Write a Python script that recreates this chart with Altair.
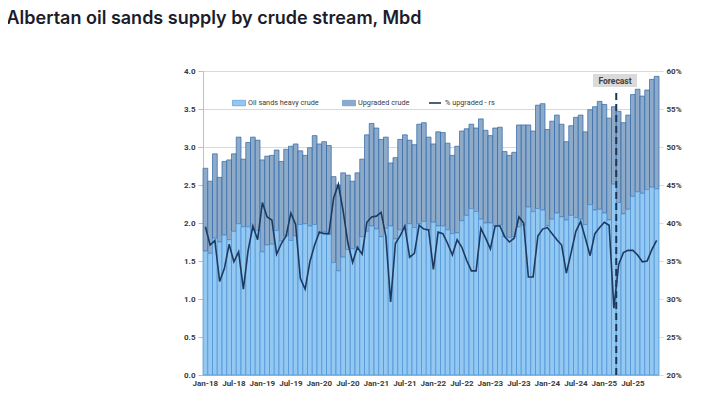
import altair as alt
import pandas as pd

months_abbr = ["Jan", "Feb", "Mar", "Apr", "May", "Jun", "Jul", "Aug", "Sep", "Oct", "Nov", "Dec"]
months = [f"{m}-{y}" for y in range(18, 26) for m in months_abbr]
tick_labels = [m for m in months if m[:3] in ("Jan", "Jul")]

# Total supply (top of stacked bar), Mbd
total = [2.72, 2.55, 2.91, 2.60, 2.81, 2.83, 2.91, 3.13, 2.84, 3.06, 3.13, 3.09,
         2.83, 2.88, 2.89, 2.96, 2.81, 2.97, 3.01, 3.04, 2.95, 2.89, 2.99, 3.15,
         3.04, 3.07, 3.02, 2.61, 2.50, 2.66, 2.63, 2.55, 2.66, 2.84, 3.16, 3.31,
         3.25, 3.10, 3.13, 2.79, 2.86, 3.10, 3.16, 3.09, 3.03, 3.30, 3.32, 3.13,
         3.04, 3.20, 3.19, 3.05, 2.89, 3.01, 3.21, 3.24, 3.30, 3.25, 3.37, 3.22,
         3.15, 3.25, 3.26, 2.94, 2.89, 2.93, 3.29, 3.29, 3.29, 3.21, 3.55, 3.57,
         3.23, 3.34, 3.42, 3.30, 3.07, 3.28, 3.39, 3.42, 3.20, 3.49, 3.53, 3.60,
         3.56, 3.38, 3.53, 3.47, 3.32, 3.42, 3.69, 3.76, 3.67, 3.75, 3.89, 3.93]

# Oil sands heavy crude, Mbd
heavy = [1.63, 1.60, 1.80, 1.75, 1.84, 1.78, 1.89, 1.99, 1.95, 1.95, 1.90, 1.90,
         1.62, 1.71, 1.72, 1.90, 1.76, 1.83, 1.77, 1.83, 1.98, 1.99, 1.96, 1.98,
         1.87, 1.88, 1.85, 1.48, 1.37, 1.55, 1.65, 1.66, 1.68, 1.82, 1.89, 1.96,
         1.92, 1.82, 1.93, 1.96, 1.79, 1.91, 1.91, 1.99, 1.94, 1.99, 2.02, 1.91,
         2.01, 1.96, 1.96, 1.91, 1.86, 1.87, 2.03, 2.10, 2.19, 2.15, 2.05, 2.00,
         2.00, 1.96, 1.97, 1.82, 1.81, 1.82, 1.95, 1.97, 2.21, 2.15, 2.19, 2.17,
         1.96, 2.05, 2.13, 2.08, 2.04, 2.10, 2.07, 2.05, 1.98, 2.24, 2.17, 2.18,
         2.13, 2.04, 2.51, 2.27, 2.12, 2.18, 2.35, 2.41, 2.39, 2.44, 2.47, 2.45]

# % upgraded (right scale)
pct_upgraded = [39.5, 37.1, 37.7, 32.3, 34.0, 37.2, 34.9, 36.2, 31.3, 36.4, 39.6, 37.8,
                42.7, 40.8, 40.4, 35.9, 37.3, 38.3, 41.3, 39.8, 32.7, 31.3, 34.9, 37.1,
                38.8, 38.6, 38.6, 43.3, 45.1, 41.6, 37.4, 34.8, 36.8, 35.9, 40.1, 40.8,
                40.9, 41.4, 38.2, 29.6, 37.3, 38.3, 39.6, 35.5, 36.0, 39.7, 39.2, 39.1,
                33.9, 38.8, 38.6, 37.3, 35.8, 37.8, 36.8, 35.1, 33.7, 33.7, 39.3, 38.0,
                36.6, 39.6, 39.6, 38.2, 37.5, 38.0, 40.8, 40.0, 32.9, 32.9, 38.3, 39.2,
                39.4, 38.6, 37.8, 37.1, 33.4, 36.1, 38.9, 40.2, 38.0, 35.7, 38.6, 39.4,
                40.1, 39.7, 28.8, 34.5, 36.1, 36.4, 36.4, 35.8, 34.9, 35.0, 36.5, 37.7]

series_names = ["Oil sands heavy crude", "Upgraded crude"]
line_name = "% upgraded - rs"
forecast_after = ["Mar-25"]

df = pd.DataFrame({"month": months, "heavy": heavy, "total": total, "pct": pct_upgraded})
df_fc = pd.DataFrame({"month": forecast_after})

FONT = "Roboto"
LABEL_COLOR = "#3a3a3a"

xscale = alt.Scale(domain=months, paddingInner=0, paddingOuter=0)
xaxis = alt.Axis(values=tick_labels, labelAngle=0, title=None, labelFont=FONT,
                 labelFontSize=8, labelFontWeight="bold", labelColor=LABEL_COLOR,
                 ticks=False, domainColor="#bfbfbf", labelPadding=4)
yscale = alt.Scale(domain=[0, 4], nice=False, zero=True)
yaxis = alt.Axis(values=[0, 0.5, 1, 1.5, 2, 2.5, 3, 3.5, 4], format=".1f", title=None,
                 labelFont=FONT, labelFontSize=8, labelFontWeight="bold",
                 labelColor=LABEL_COLOR, domainColor="#bfbfbf", tickColor="#bfbfbf",
                 tickSize=5, gridColor="#d9d9d9", grid=True, labelPadding=3)

fill_scale = alt.Scale(domain=series_names, range=["#92C8F1", "#8DABC8"])
fill_legend = alt.Legend(orient="none", legendX=29, legendY=25, direction="horizontal",
                         title=None, symbolType="M-1,-0.42H1V0.42H-1Z", symbolSize=169,
                         symbolStrokeColor="#4f8fd0", symbolStrokeWidth=0.6,
                         labelFont=FONT, labelFontSize=7.3, labelColor=LABEL_COLOR,
                         labelOffset=2, columnPadding=22, padding=0)

base = alt.Chart(df)

upgraded_bars = base.mark_bar(stroke="#2f66a6", strokeWidth=0.7).transform_calculate(
    series="'Upgraded crude'"
).encode(
    x=alt.X("month:O", scale=xscale, axis=xaxis),
    y=alt.Y("heavy:Q", scale=yscale, axis=yaxis),
    y2="total:Q",
    fill=alt.Fill("series:N", scale=fill_scale, legend=fill_legend),
)

heavy_bars = base.mark_bar(stroke="#4a90d6", strokeWidth=0.7).transform_calculate(
    series="'Oil sands heavy crude'"
).encode(
    x=alt.X("month:O", scale=xscale, axis=xaxis),
    y=alt.Y("heavy:Q", scale=yscale, axis=yaxis),
    fill=alt.Fill("series:N", scale=fill_scale, legend=fill_legend),
)

forecast_rule = alt.Chart(df_fc).mark_rule(
    color="#1f3553", strokeWidth=2, strokeDash=[7, 4]
).encode(
    x=alt.X("month:O", scale=xscale, axis=xaxis, bandPosition=1),
    y=alt.value(22),
    y2=alt.value(304),
)

fc_box = alt.Chart(df_fc).mark_rect(color="#dadada").encode(
    x=alt.value(390), x2=alt.value(434), y=alt.value(3), y2=alt.value(16)
)
fc_text = alt.Chart(df_fc).mark_text(
    text="Forecast", font=FONT, fontSize=8.5, fontWeight="bold", color="#404040",
    align="center", baseline="middle"
).encode(x=alt.value(412), y=alt.value(10))

left = alt.layer(upgraded_bars, heavy_bars, forecast_rule, fc_box, fc_text)

line = base.mark_line(strokeWidth=1.6).transform_calculate(
    lbl=f"'{line_name}'"
).encode(
    x=alt.X("month:O", scale=xscale, axis=xaxis),
    y=alt.Y("pct:Q", scale=alt.Scale(domain=[20, 60], nice=False, zero=False),
            axis=alt.Axis(orient="right", values=[20, 25, 30, 35, 40, 45, 50, 55, 60],
                          labelExpr="datum.value + '%'", title=None, grid=False,
                          domain=False, tickColor="#d9d9d9", tickSize=4,
                          labelFont=FONT, labelFontSize=8, labelFontWeight="bold",
                          labelColor=LABEL_COLOR, labelPadding=3)),
    stroke=alt.Stroke("lbl:N", scale=alt.Scale(domain=[line_name], range=["#1f3a5f"]),
                      legend=alt.Legend(orient="none", legendX=225, legendY=25,
                                        title=None, symbolType="stroke", symbolSize=144,
                                        symbolStrokeWidth=1.6, labelFont=FONT,
                                        labelFontSize=7.3, labelColor=LABEL_COLOR,
                                        labelOffset=3, padding=0)),
)

chart = alt.layer(left, line).resolve_scale(y="independent").properties(
    width=456,
    height=304,
    autosize="none",
    padding={"left": 195, "top": 63, "right": 30, "bottom": 15},
    title=alt.TitleParams(
        "Albertan oil sands supply by crude stream, Mbd",
        anchor="start", dx=-177, offset=25, fontSize=18, font="Inter",
        fontWeight=600, color="#1c1c2b", baseline="alphabetic",
    ),
).configure_view(stroke=None)

chart.save("out.html", embed_options={"renderer": "svg", "actions": False})
